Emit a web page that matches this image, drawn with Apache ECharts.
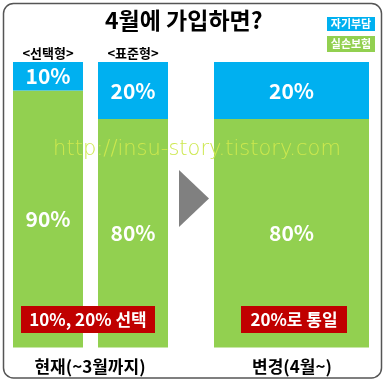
<!DOCTYPE html>
<html><head><meta charset="utf-8">
<script src="https://cdn.jsdelivr.net/npm/echarts@6/dist/echarts.min.js"></script>
<style>html,body{margin:0;padding:0;background:#fff}#c{width:386px;height:382px}</style>
</head><body><div id="c"></div>
<script>
const beforeCats = ['<선택형>', '<표준형>'];
const beforeSelf = [10, 20];
const beforeIns = [90, 80];
const afterCats = ['변경'];
const afterSelf = [20];
const afterIns = [80];
const seriesNames = ['자기부담', '실손보험'];
const colors = ['#00B0F0', '#92D050'];
const KR = '"Noto Sans CJK KR", sans-serif';

const lbl = {show: true, position: 'inside', color: '#fff', fontWeight: 'bold', fontSize: 21, fontFamily: KR, formatter: p => p.value + '%'};

const chart = echarts.init(document.getElementById('c'), null, {renderer: 'canvas'});
chart.setOption({
  animation: false,
  title: {text: '4월에 가입하면?', left: 100, top: 4, textStyle: {fontFamily: KR, fontWeight: 'bold', fontSize: 23, color: '#000'}},
  grid: [
    {left: 5.5, width: 170, top: 62, bottom: 34.5},
    {left: 214, width: 155, top: 62, bottom: 34.5}
  ],
  xAxis: [
    {gridIndex: 0, type: 'category', data: beforeCats, position: 'top', axisLine: {show: false}, axisTick: {show: false},
     axisLabel: {show: true, margin: 2, color: '#000', fontFamily: KR, fontWeight: 'bold', fontSize: 13}},
    {gridIndex: 1, type: 'category', data: afterCats, show: false}
  ],
  yAxis: [
    {gridIndex: 0, type: 'value', min: 0, max: 100, show: false},
    {gridIndex: 1, type: 'value', min: 0, max: 100, show: false}
  ],
  series: [
    {name: seriesNames[1], type: 'bar', stack: 'a', xAxisIndex: 0, yAxisIndex: 0, data: beforeIns, barWidth: 70, itemStyle: {color: colors[1]}, label: lbl},
    {name: seriesNames[0], type: 'bar', stack: 'a', xAxisIndex: 0, yAxisIndex: 0, data: beforeSelf, barWidth: 70, itemStyle: {color: colors[0]}, label: lbl},
    {name: seriesNames[1], type: 'bar', stack: 'b', xAxisIndex: 1, yAxisIndex: 1, data: afterIns, barWidth: 155, itemStyle: {color: colors[1]}, label: lbl},
    {name: seriesNames[0], type: 'bar', stack: 'b', xAxisIndex: 1, yAxisIndex: 1, data: afterSelf, barWidth: 155, itemStyle: {color: colors[0]}, label: lbl}
  ],
  graphic: [
    {type: 'rect', shape: {x: 3.5, y: 3.5, width: 378, height: 374.5, r: 10}, style: {fill: 'none', stroke: '#555', lineWidth: 1.5}, z: 100},
    {type: 'rect', shape: {x: 327, y: 17, width: 48, height: 14}, style: {fill: colors[0]}, z: 100},
    {type: 'text', x: 351, y: 24, style: {text: seriesNames[0], fill: '#fff', font: 'bold 11px ' + KR, textAlign: 'center', textVerticalAlign: 'middle'}, z: 101},
    {type: 'rect', shape: {x: 327, y: 36, width: 48, height: 16}, style: {fill: colors[1]}, z: 100},
    {type: 'text', x: 351, y: 44, style: {text: seriesNames[1], fill: '#fff', font: 'bold 11px ' + KR, textAlign: 'center', textVerticalAlign: 'middle'}, z: 101},
    {type: 'polygon', shape: {points: [[179, 170], [209, 198.5], [179, 227]]}, style: {fill: '#808080'}, z: 100},
    {type: 'text', x: 197, y: 150, style: {text: 'http://insu-story.tistory.com', fill: '#CDE84E', font: '200 21px "DejaVu Sans", sans-serif', textAlign: 'center', textVerticalAlign: 'middle'}, z: 102},
    {type: 'rect', shape: {x: 21, y: 306, width: 134, height: 27}, style: {fill: '#C00000'}, z: 100},
    {type: 'text', x: 88, y: 319.5, style: {text: '10%, 20% 선택', fill: '#fff', font: 'bold 17px ' + KR, textAlign: 'center', textVerticalAlign: 'middle'}, z: 101},
    {type: 'rect', shape: {x: 241, y: 306, width: 106, height: 27}, style: {fill: '#C00000'}, z: 100},
    {type: 'text', x: 294, y: 319.5, style: {text: '20%로 통일', fill: '#fff', font: 'bold 17px ' + KR, textAlign: 'center', textVerticalAlign: 'middle'}, z: 101},
    {type: 'text', x: 90, y: 367, style: {text: '현재(~3월까지)', fill: '#000', font: 'bold 17px ' + KR, textAlign: 'center', textVerticalAlign: 'middle'}, z: 101},
    {type: 'text', x: 292, y: 367, style: {text: '변경(4월~)', fill: '#000', font: 'bold 17px ' + KR, textAlign: 'center', textVerticalAlign: 'middle'}, z: 101}
  ]
});
</script></body></html>
